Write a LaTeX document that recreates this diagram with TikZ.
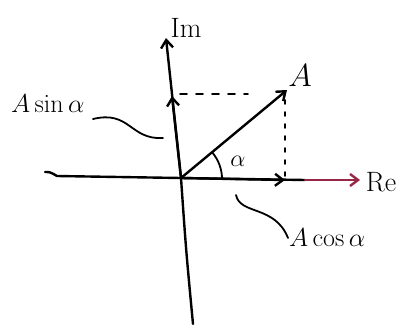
\RequirePackage{fix-cm}
\documentclass[tikz,border=0pt]{standalone}
\usepackage{tikz}
\usetikzlibrary{arrows.meta,positioning}
\definecolor{axisred}{RGB}{150,40,70}

\begin{document}
\begin{tikzpicture}[x=1pt,y=-1pt,>={Straight Barb[length=8pt,width=12pt]},line cap=round]
\tikzset{ax/.style={line width=2.4pt},lbl/.style={font=\fontsize{26}{30}\selectfont,inner sep=1pt},thin line/.style={line width=1.8pt}}
\useasboundingbox (0,0) rectangle (401,324);
% points
\coordinate (O) at (181,178);
\coordinate (imtop) at (166,38);
\coordinate (imbot) at (193,324);
\coordinate (reL) at (45,172);
\coordinate (reR) at (360,180);
\coordinate (tip) at (287,90);
\coordinate (cosend) at (285,180);
\coordinate (sinend) at (172,96);
\coordinate (redfrom) at (305,180);
% axes
\draw[ax] (reL) .. controls (50,172) .. (57,176) -- (O);
\draw[ax] (O) -- (redfrom);
\draw[ax,color=axisred,->] (redfrom) -- (reR);
\draw[ax] (imbot) .. controls (186,250) .. (O);
\draw[ax,->] (O) -- (imtop);
% components
\draw[ax,->] (O) -- (cosend);
\draw[ax,->] (O) -- (sinend);
\draw[ax,->] (O) -- (tip);
\draw[thin line,dash pattern=on 7pt off 9pt] (180,94) -- (248,94);
\draw[thin line,dash pattern=on 4pt off 8pt] (285,100) -- (cosend);
% angle
\draw[thin line] (222,179) arc[start angle=0,end angle=-40,radius=41];
% labels
\node[lbl,font=\fontsize{28}{30}\selectfont] (Im) at (186,28) {$\mathrm{Im}$};
\node[lbl,font=\fontsize{28}{30}\selectfont] (Re) at (381,182) {$\mathrm{Re}$};
\node[lbl,font=\fontsize{32}{34}\selectfont] (A) at (300,76) {$A$};
\node[font=\fontsize{24}{26}\selectfont] (alpha) at (238,161) {$\alpha$};
\node[lbl,anchor=west] (Asin) at (10,104) {$A\sin\alpha$};
\node[lbl,anchor=west] (Acos) at (288,238) {$A\cos\alpha$};
% pointers
\coordinate (sinp) at (163,138);
\coordinate (cosp) at (236,195);
\draw[thin line] (93,119) .. controls (130,110) and (130,140) .. (sinp);
\draw[thin line] (cosp) .. controls (240,215) and (275,205) .. (Acos.west);
\end{tikzpicture}
\end{document}
